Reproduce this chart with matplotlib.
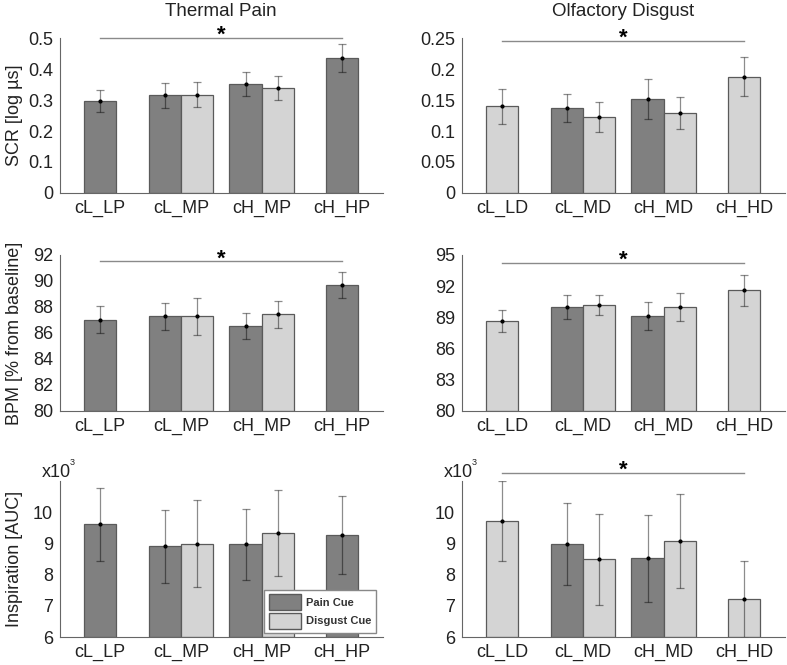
import numpy as np
import matplotlib
matplotlib.use("Agg")
import matplotlib.pyplot as plt

plt.rcParams["font.family"] = ["Liberation Sans", "DejaVu Sans"]

nan = np.nan

pain_groups = ["cL_LP", "cL_MP", "cH_MP", "cH_HP"]
disgust_groups = ["cL_LD", "cL_MD", "cH_MD", "cH_HD"]

# SCR [log us]
scr_pain_pain = [0.296, 0.315, 0.351, 0.435]
scr_pain_pain_err = [0.035, 0.040, 0.039, 0.045]
scr_pain_disg = [nan, 0.317, 0.339, nan]
scr_pain_disg_err = [nan, 0.040, 0.038, nan]

scr_disg_pain = [nan, 0.1366, 0.1516, nan]
scr_disg_pain_err = [nan, 0.0226, 0.033, nan]
scr_disg_disg = [0.1398, 0.1226, 0.1285, 0.1876]
scr_disg_disg_err = [0.028, 0.025, 0.026, 0.031]

# BPM [% from baseline]
bpm_pain_pain = [87.02, 87.27, 86.55, 89.67]
bpm_pain_pain_err = [1.03, 1.02, 1.0, 1.0]
bpm_pain_disg = [nan, 87.27, 87.45, nan]
bpm_pain_disg_err = [nan, 1.43, 1.03, nan]

bpm_disg_pain = [nan, 89.99, 89.13, nan]
bpm_disg_pain_err = [nan, 1.15, 1.3, nan]
bpm_disg_disg = [88.68, 90.21, 89.99, 91.59]
bpm_disg_disg_err = [1.06, 0.95, 1.33, 1.5]

# Inspiration [AUC], x10^3
insp_pain_pain = [9.616, 8.91, 8.97, 9.27]
insp_pain_pain_err = [1.17, 1.17, 1.13, 1.24]
insp_pain_disg = [nan, 8.99, 9.33, nan]
insp_pain_disg_err = [nan, 1.4, 1.37, nan]

insp_disg_pain = [nan, 8.98, 8.52, nan]
insp_disg_pain_err = [nan, 1.3, 1.4, nan]
insp_disg_disg = [9.72, 8.49, 9.08, 7.21]
insp_disg_disg_err = [1.27, 1.45, 1.51, 1.24]

dark = "#808080"
light = "#d4d4d4"
edge = "#5a5a5a"
txt = "#222222"


def draw_panel(ax, labels, pain, pain_err, disg, disg_err, ylim, yticks,
               sig_y=None):
    x = np.arange(1, 5)
    w = 0.4
    for i in range(4):
        both = not np.isnan(pain[i]) and not np.isnan(disg[i])
        bars = []
        if not np.isnan(pain[i]):
            bars.append((x[i] - w / 2 if both else x[i], pain[i], pain_err[i], dark))
        if not np.isnan(disg[i]):
            bars.append((x[i] + w / 2 if both else x[i], disg[i], disg_err[i], light))
        for xp, v, e, c in bars:
            ax.bar(xp, v - ylim[0], w, bottom=ylim[0], color=c,
                   edgecolor=edge, linewidth=0.9, zorder=2)
            ax.errorbar(xp, v, yerr=e, fmt="none", ecolor="black",
                        elinewidth=0.9, capsize=2.6, capthick=0.9,
                        alpha=0.45, zorder=3)
            ax.plot(xp, v, "o", color="black", markersize=2, zorder=4)
    ax.set_xlim(0.5, 4.5)
    ax.set_ylim(*ylim)
    ax.set_yticks(yticks)
    ax.set_xticks(x)
    ax.set_xticklabels(labels)
    ax.tick_params(labelsize=13, length=0, pad=5, colors=txt)
    for s in ["top", "right"]:
        ax.spines[s].set_visible(False)
    for s in ["left", "bottom"]:
        ax.spines[s].set_color("#666666")
        ax.spines[s].set_linewidth(0.8)
    if sig_y is not None:
        ax.plot([1, 4], [sig_y, sig_y], color="#8a8a8a", linewidth=1,
                clip_on=False, zorder=1)
        ax.annotate("*", (2.5, sig_y), xytext=(0, -2),
                    textcoords="offset points", ha="center", va="baseline",
                    fontsize=16, fontweight="bold", annotation_clip=False)


fig = plt.figure(figsize=(7.87, 6.65), dpi=100)
left_x, right_x, wid = 0.0762, 0.587, 0.410
rows = [(0.7098, 0.233), (0.382, 0.2346), (0.0421, 0.2346)]

ax1 = fig.add_axes([left_x, rows[0][0], wid, rows[0][1]])
ax2 = fig.add_axes([right_x, rows[0][0], wid, rows[0][1]])
ax3 = fig.add_axes([left_x, rows[1][0], wid, rows[1][1]])
ax4 = fig.add_axes([right_x, rows[1][0], wid, rows[1][1]])
ax5 = fig.add_axes([left_x, rows[2][0], wid, rows[2][1]])
ax6 = fig.add_axes([right_x, rows[2][0], wid, rows[2][1]])

draw_panel(ax1, pain_groups, scr_pain_pain, scr_pain_pain_err,
           scr_pain_disg, scr_pain_disg_err, (0, 0.5),
           [0, 0.1, 0.2, 0.3, 0.4, 0.5], sig_y=0.5)
ax1.set_yticklabels(["0", "0.1", "0.2", "0.3", "0.4", "0.5"])
draw_panel(ax2, disgust_groups, scr_disg_pain, scr_disg_pain_err,
           scr_disg_disg, scr_disg_disg_err, (0, 0.25),
           [0, 0.05, 0.1, 0.15, 0.2, 0.25], sig_y=0.245)
ax2.set_yticklabels(["0", "0.05", "0.1", "0.15", "0.2", "0.25"])

draw_panel(ax3, pain_groups, bpm_pain_pain, bpm_pain_pain_err,
           bpm_pain_disg, bpm_pain_disg_err, (80, 92),
           [80, 82, 84, 86, 88, 90, 92], sig_y=91.5)
draw_panel(ax4, disgust_groups, bpm_disg_pain, bpm_disg_pain_err,
           bpm_disg_disg, bpm_disg_disg_err, (80, 95),
           [80, 83, 86, 89, 92, 95], sig_y=94.2)

draw_panel(ax5, pain_groups, insp_pain_pain, insp_pain_pain_err,
           insp_pain_disg, insp_pain_disg_err, (6, 11),
           [6, 7, 8, 9, 10])
draw_panel(ax6, disgust_groups, insp_disg_pain, insp_disg_pain_err,
           insp_disg_disg, insp_disg_disg_err, (6, 11),
           [6, 7, 8, 9, 10], sig_y=11.25)

for ax in (ax5, ax6):
    ax.text(-0.056, 1.026, "x10", transform=ax.transAxes, fontsize=13,
            color=txt, ha="left", va="baseline")
    ax.text(0.03, 1.1, "3", transform=ax.transAxes, fontsize=6.5,
            color=txt, ha="left", va="baseline")

ax1.set_title("Thermal Pain", fontsize=13.5, pad=16, color=txt)
ax2.set_title("Olfactory Disgust", fontsize=13.5, pad=16, color=txt)

ax1.set_ylabel("SCR [log \u00b5s]", fontsize=13, color=txt)
ax3.set_ylabel("BPM [% from baseline]", fontsize=13, color=txt)
ax5.set_ylabel("Inspiration [AUC]", fontsize=13, color=txt)
for ax in (ax1, ax3, ax5):
    ax.yaxis.set_label_coords(-0.115, 0.5)

handles = [plt.Rectangle((0, 0), 1, 1, facecolor=dark, edgecolor=edge),
           plt.Rectangle((0, 0), 1, 1, facecolor=light, edgecolor=edge)]
leg = ax5.legend(handles, ["Pain Cue", "Disgust Cue"], loc="lower right",
                 bbox_to_anchor=(0.98, 0.025),
                 prop={"size": 8, "weight": "bold"},
                 handlelength=2.9, handleheight=1.8, fancybox=False,
                 framealpha=1, edgecolor="#888888", borderpad=0.4,
                 labelspacing=0.25, handletextpad=0.5, borderaxespad=0)
leg.set_zorder(5)
for t in leg.get_texts():
    t.set_color("#333333")

fig.savefig("out.png", dpi=100)
